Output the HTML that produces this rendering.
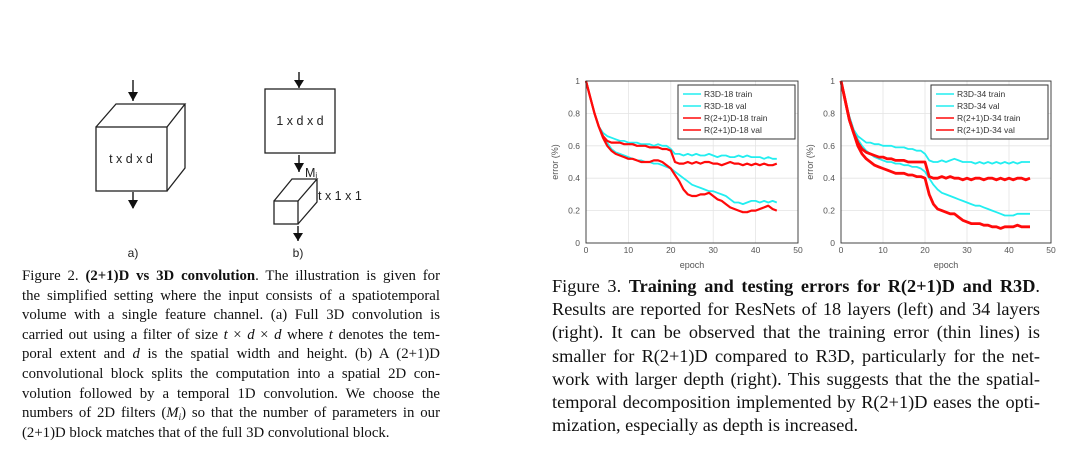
<!DOCTYPE html>
<html><head><meta charset="utf-8">
<style>
html,body{margin:0;padding:0;background:#fff;}
body{width:1081px;height:461px;position:relative;overflow:hidden;font-family:"Liberation Serif",serif;}
.cap{position:absolute;color:#111;}
.cap div{text-align:justify;text-align-last:justify;white-space:nowrap;height:inherit;}
#cap1{left:22px;top:267px;width:418px;font-size:14.8px;line-height:19.6px;}
#cap2{left:552px;top:275px;width:488px;font-size:18.3px;line-height:23.2px;}
#cap1 div{height:19.6px;}
#cap2 div{height:23.2px;}
#cap1 div.last,#cap2 div.last{text-align-last:left;}
.sub{font-size:9px;position:relative;top:3px;line-height:0;}
svg{position:absolute;left:0;top:0;}
</style></head>
<body>
<svg id="svg" width="1081" height="461" viewBox="0 0 1081 461">
 <g stroke="#222" stroke-width="1.3" fill="none">
  <line x1="133" y1="80" x2="133" y2="101" stroke-width="1.5"/>
  <path d="M128,92 L138,92 L133,101 z" fill="#111" stroke="none"/>
  <rect x="96" y="127" width="71" height="64" fill="#fff"/>
  <path d="M96,127 L116,104 L185,104 L167,127 M185,104 L185,168 L167,191"/>
  <line x1="133" y1="192" x2="133" y2="208" stroke-width="1.5"/>
  <path d="M128,200 L138,200 L133,209 z" fill="#111" stroke="none"/>
 </g>
 <text x="131" y="163" text-anchor="middle" font-family="Liberation Sans, sans-serif" font-size="12.5" fill="#222">t x d x d</text>
 <text x="133" y="257" text-anchor="middle" font-family="Liberation Sans, sans-serif" font-size="12" fill="#222">a)</text>
 <g stroke="#222" stroke-width="1.3" fill="none">
  <line x1="299" y1="72" x2="299" y2="88" stroke-width="1.5"/>
  <path d="M294,80 L304,80 L299,88 z" fill="#111" stroke="none"/>
  <rect x="265" y="89" width="70" height="64" fill="#fff"/>
  <line x1="299" y1="155" x2="299" y2="172" stroke-width="1.5"/>
  <path d="M294,163 L304,163 L299,172 z" fill="#111" stroke="none"/>
  <rect x="274" y="201" width="24" height="23" fill="#fff"/>
  <path d="M274,201 L292,179 L317,179 L298,201 M317,179 L317,202 L298,224"/>
  <line x1="298" y1="226" x2="298" y2="241" stroke-width="1.5"/>
  <path d="M293,233 L303,233 L298,241 z" fill="#111" stroke="none"/>
 </g>
 <text x="300" y="125" text-anchor="middle" font-family="Liberation Sans, sans-serif" font-size="12.5" fill="#222">1 x d x d</text>
 <text x="305" y="177" font-family="Liberation Sans, sans-serif" font-size="12.5" fill="#222">M<tspan font-size="8" dy="1">i</tspan></text>
 <text x="318" y="200" font-family="Liberation Sans, sans-serif" font-size="12.5" fill="#222">t x 1 x 1</text>
 <text x="298" y="257" text-anchor="middle" font-family="Liberation Sans, sans-serif" font-size="12" fill="#222">b)</text>
 <g id="chart1"></g>
 <g id="chart2"></g>
</svg>

<div class="cap" id="cap1">
<div>Figure 2. <b>(2+1)D vs 3D convolution</b>. The illustration is given for</div>
<div>the simplified setting where the input consists of a spatiotemporal</div>
<div>volume with a single feature channel. (a) Full 3D convolution is</div>
<div>carried out using a filter of size <i>t</i> × <i>d</i> × <i>d</i> where <i>t</i> denotes the tem-</div>
<div>poral extent and <i>d</i> is the spatial width and height. (b) A (2+1)D</div>
<div>convolutional block splits the computation into a spatial 2D con-</div>
<div>volution followed by a temporal 1D convolution. We choose the</div>
<div>numbers of 2D filters (<i>M<span class="sub">i</span></i>) so that the number of parameters in our</div>
<div class="last">(2+1)D block matches that of the full 3D convolutional block.</div>
</div>

<div class="cap" id="cap2">
<div>Figure 3. <b>Training and testing errors for R(2+1)D and R3D</b>.</div>
<div>Results are reported for ResNets of 18 layers (left) and 34 layers</div>
<div>(right). It can be observed that the training error (thin lines) is</div>
<div>smaller for R(2+1)D compared to R3D, particularly for the net-</div>
<div>work with larger depth (right). This suggests that the the spatial-</div>
<div>temporal decomposition implemented by R(2+1)D eases the opti-</div>
<div class="last">mization, especially as depth is increased.</div>
</div>

<script>
const xTicks = [0,10,20,30,40,50];
const yTicks = [0,0.2,0.4,0.6,0.8,1];
const yTickLabels = ["0","0.2","0.4","0.6","0.8","1"];
const legend18 = ["R3D-18 train","R3D-18 val","R(2+1)D-18 train","R(2+1)D-18 val"];
const legend34 = ["R3D-34 train","R3D-34 val","R(2+1)D-34 train","R(2+1)D-34 val"];
const r3d18Train = [1.0,0.9,0.8,0.72,0.66,0.62,0.58,0.56,0.55,0.54,0.53,0.52,0.51,0.51,0.50,0.50,0.49,0.49,0.48,0.47,0.46,0.44,0.42,0.40,0.38,0.36,0.35,0.34,0.33,0.32,0.32,0.31,0.30,0.29,0.27,0.25,0.25,0.24,0.25,0.26,0.26,0.25,0.26,0.25,0.26,0.25];
const r3d18Val = [1.0,0.9,0.8,0.72,0.68,0.66,0.65,0.64,0.63,0.63,0.62,0.62,0.62,0.61,0.61,0.61,0.60,0.61,0.60,0.60,0.58,0.55,0.55,0.54,0.55,0.54,0.55,0.54,0.54,0.55,0.54,0.53,0.54,0.54,0.53,0.53,0.54,0.53,0.54,0.53,0.53,0.53,0.52,0.53,0.52,0.52];
const r21d18Train = [1.0,0.9,0.8,0.72,0.65,0.60,0.57,0.55,0.54,0.53,0.52,0.52,0.51,0.50,0.50,0.50,0.51,0.51,0.50,0.48,0.46,0.42,0.38,0.33,0.30,0.29,0.29,0.30,0.30,0.31,0.29,0.27,0.26,0.24,0.22,0.21,0.20,0.19,0.19,0.20,0.20,0.21,0.22,0.23,0.21,0.20];
const r21d18Val = [1.0,0.9,0.8,0.72,0.66,0.63,0.62,0.62,0.62,0.61,0.61,0.61,0.60,0.60,0.60,0.59,0.59,0.59,0.58,0.58,0.57,0.50,0.49,0.49,0.50,0.49,0.50,0.49,0.50,0.50,0.49,0.49,0.48,0.49,0.50,0.49,0.49,0.48,0.49,0.48,0.49,0.48,0.49,0.48,0.48,0.49];
const r3d34Train = [1.0,0.88,0.78,0.70,0.64,0.60,0.57,0.55,0.53,0.52,0.51,0.50,0.50,0.49,0.49,0.48,0.48,0.47,0.47,0.46,0.44,0.40,0.36,0.33,0.31,0.30,0.29,0.28,0.27,0.26,0.25,0.24,0.23,0.23,0.22,0.21,0.20,0.19,0.18,0.17,0.17,0.17,0.18,0.18,0.18,0.18];
const r3d34Val = [1.0,0.88,0.78,0.70,0.66,0.64,0.62,0.62,0.61,0.61,0.60,0.60,0.60,0.59,0.59,0.59,0.58,0.58,0.57,0.57,0.55,0.51,0.50,0.50,0.51,0.50,0.51,0.52,0.51,0.50,0.50,0.50,0.49,0.50,0.49,0.50,0.49,0.50,0.49,0.50,0.49,0.50,0.49,0.50,0.50,0.50];
const r21d34Train = [1.0,0.88,0.76,0.68,0.60,0.55,0.52,0.50,0.48,0.47,0.46,0.45,0.44,0.43,0.43,0.43,0.42,0.42,0.41,0.41,0.40,0.30,0.24,0.21,0.20,0.19,0.18,0.18,0.16,0.14,0.13,0.12,0.12,0.12,0.11,0.11,0.10,0.10,0.09,0.10,0.10,0.10,0.11,0.10,0.10,0.10];
const r21d34Val = [1.0,0.88,0.76,0.68,0.62,0.58,0.56,0.55,0.54,0.53,0.53,0.52,0.52,0.51,0.51,0.51,0.50,0.50,0.50,0.50,0.50,0.41,0.40,0.40,0.41,0.40,0.41,0.40,0.40,0.39,0.40,0.39,0.40,0.40,0.39,0.40,0.40,0.39,0.40,0.39,0.40,0.39,0.40,0.40,0.39,0.40];

const NS = "http://www.w3.org/2000/svg";
function mk(tag, attrs, parent){const e=document.createElementNS(NS,tag);for(const k in attrs)e.setAttribute(k,attrs[k]);parent.appendChild(e);return e;}

function drawChart(g, x0, x1, series, labels, redW){
  const yTop=81, yBot=243;
  const sx = v => x0 + (v/50)*(x1-x0);
  const sy = v => yBot - v*(yBot-yTop);
  mk('rect',{x:x0,y:yTop,width:x1-x0,height:yBot-yTop,fill:'#fff'},g);
  xTicks.forEach(t=>{
    const l=mk('line',{x1:sx(t),x2:sx(t),y1:yTop,y2:yBot,stroke:'#e4e4e4','stroke-width':0.8},g);
    
    
    const tx=mk('text',{x:sx(t),y:253,'text-anchor':'middle','font-size':8.5,'font-family':'Liberation Sans, sans-serif',fill:'#555'},g);
    tx.textContent=String(t);
    
    
  });
  yTicks.forEach((t,i)=>{
    const l=mk('line',{x1:x0,x2:x1,y1:sy(t),y2:sy(t),stroke:'#e4e4e4','stroke-width':0.8},g);
    
    
    const tx=mk('text',{x:x0-6,y:sy(t)+3,'text-anchor':'end','font-size':8.5,'font-family':'Liberation Sans, sans-serif',fill:'#555'},g);
    tx.textContent=yTickLabels[i];
    
    
  });
  const colors=['#22eef0','#22eef0','#ff0a0a','#ff0a0a'];
  const widths=[1.8,1.8,redW,redW];
  series.forEach((s,si)=>{
    const d=s.map((v,i)=>(i?'L':'M')+sx(i).toFixed(1)+','+sy(v).toFixed(1)).join(' ');
    const p=mk('path',{d:d,fill:'none',stroke:colors[si],'stroke-width':widths[si],'stroke-linejoin':'round'},g);
    
    
  });
  const box=mk('rect',{x:x0,y:yTop,width:x1-x0,height:yBot-yTop,fill:'none',stroke:'#333','stroke-width':0.9},g);
  
  
  const xl=mk('text',{x:(x0+x1)/2,y:268,'text-anchor':'middle','font-size':9,'font-family':'Liberation Sans, sans-serif',fill:'#555'},g);
  xl.textContent='epoch';
  
  
  const yl=mk('text',{x:0,y:0,'text-anchor':'middle','font-size':9,'font-family':'Liberation Sans, sans-serif',fill:'#555',transform:'translate('+(x0-28)+',162) rotate(-90)'},g);
  yl.textContent='error (%)';
  
  
  const lx=x1-120, ly=85;
  const lg=mk('g',{},g);
  
  
  mk('rect',{x:lx,y:ly,width:117,height:54,fill:'#fff',stroke:'#333','stroke-width':1},lg);
  labels.forEach((lab,i)=>{
    const yy=ly+9+i*12;
    const e=mk('g',{},lg);
    
    
    mk('line',{x1:lx+5,x2:lx+23,y1:yy,y2:yy,stroke:colors[i],'stroke-width':1.6},e);
    const t=mk('text',{x:lx+26,y:yy+3,'font-size':8.5,'font-family':'Liberation Sans, sans-serif',fill:'#333'},e);
    t.textContent=lab;
  });
}
drawChart(document.getElementById('chart1'),586,798,[r3d18Train,r3d18Val,r21d18Train,r21d18Val],legend18,2.2);
drawChart(document.getElementById('chart2'),841,1051,[r3d34Train,r3d34Val,r21d34Train,r21d34Val],legend34,2.8);
</script>
</body></html>
